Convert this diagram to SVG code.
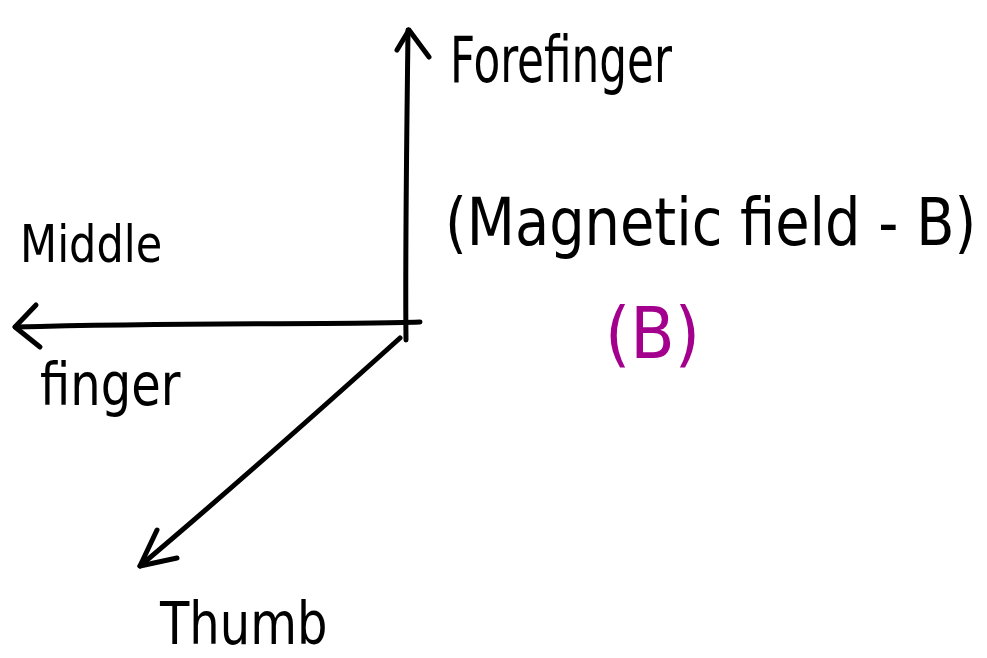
<svg xmlns="http://www.w3.org/2000/svg" width="987" height="658" viewBox="0 0 987 658">
<style>
.ax{fill:none;stroke:#000;stroke-width:5;stroke-linecap:round;stroke-linejoin:round}
.t{font-family:"DejaVu Sans Condensed","DejaVu Sans","Liberation Sans",sans-serif;fill:#000}
.p{fill:#a3008e}
</style>
<rect width="987" height="658" fill="#fff"/>
<g id="connectors">
<path class="ax" d="M406,340 C405,250 407,120 408,30"/>
<path class="ax" d="M397,50 L409,30 L429,57"/>
<path class="ax" d="M420,322 C330,325 200,322 15,327"/>
<path class="ax" d="M36,305 L15,327 L40,347"/>
<path class="ax" d="M400,338 C320,410 230,490 140,566"/>
<path class="ax" d="M157,530 L140,566 L177,558"/>
</g>
<g id="forefinger" transform="translate(450,82) scale(0.76,1)"><text class="t" x="0" y="0" font-size="64">Forefinger</text></g>
<g id="magnetic" transform="translate(445,245) scale(0.94,1)"><text class="t" x="0" y="0" font-size="66">(Magnetic field - B)</text></g>
<g id="middle" transform="translate(20,262) scale(0.92,1)"><text class="t" x="0" y="0" font-size="52">Middle</text></g>
<g id="finger" transform="translate(40,405) scale(0.92,1)"><text class="t" x="0" y="0" font-size="58">finger</text></g>
<g id="b"><text class="t p" x="605" y="358" font-size="72">(B)</text></g>
<g id="thumb" transform="translate(160,644) scale(0.92,1)"><text class="t" x="0" y="0" font-size="58">Thumb</text></g>
</svg>
